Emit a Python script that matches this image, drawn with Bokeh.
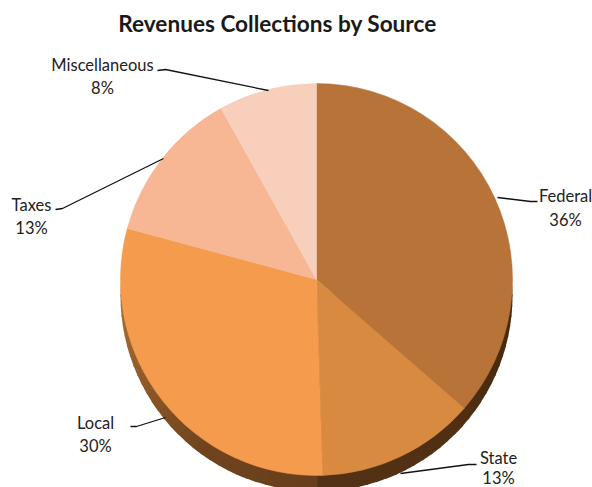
from bokeh.plotting import figure
from bokeh.embed import file_html
from bokeh.resources import INLINE
from bokeh.core.properties import value
import math

# --- chart data ---
sources = ["Federal", "State", "Local", "Taxes", "Miscellaneous"]
shares = [36.4, 13.1, 29.7, 12.7, 8.1]
colors = ["#b87338", "#d98a41", "#f59b4e", "#f7b694", "#f8cfbb"]
title = "Revenues Collections by Source"

W, H = 592, 487
CX, CY, R, DEPTH = 316, 279, 196, 16
FONT = "Lato"


def Y(py):
    return H - py


p = figure(width=W, height=H, x_range=(0, W), y_range=(0, H),
           output_backend="svg", toolbar_location=None,
           min_border=0, outline_line_color=None, background_fill_color="white",
           border_fill_color="white")
p.xaxis.visible = False
p.yaxis.visible = False
p.grid.visible = False


def lerp(a, b, t):
    return tuple(a[i] + (b[i] - a[i]) * t for i in range(3))


# rim shading: clockwise angle from the top -> colour
rim_stops = [(90, (70, 40, 15)), (130, (80, 47, 18)), (178, (84, 50, 22)), (179, (104, 62, 28)),
             (215, (112, 68, 30)), (250, (150, 96, 44)), (270, (175, 115, 55))]


def rim_color(a):
    for (a0, c0), (a1, c1) in zip(rim_stops, rim_stops[1:]):
        if a0 <= a <= a1:
            c = lerp(c0, c1, (a - a0) / (a1 - a0))
            return "#%02x%02x%02x" % tuple(int(v) for v in c)
    return "#5a3515"


# extruded rim, drawn behind the top face
step = 3
for a in range(87, 273, step):
    p.wedge(x=[CX], y=[Y(CY + DEPTH)], radius=R,
            start_angle=[math.radians(90 - a + 0.3)], end_angle=[math.radians(90 - a - step - 0.3)],
            direction="clock", fill_color=rim_color(a), line_color=None)

# top face from the shares
total = sum(shares)
ang = math.pi / 2
for s, c in zip(shares, colors):
    nxt = ang - 2 * math.pi * s / total
    p.wedge(x=[CX], y=[Y(CY)], radius=R, start_angle=[ang], end_angle=[nxt],
            direction="clock", fill_color=c, line_color=c, line_width=0.5)
    ang = nxt

# leader lines
leaders = {
    "Miscellaneous": [(157, 70), (165, 69), (268, 90)],
    "Taxes": [(55, 209), (62, 208), (163, 158)],
    "Federal": [(537, 201), (530, 201), (497, 197)],
    "Local": [(130, 426), (136, 426), (165, 417)],
    "State": [(476, 464), (468, 464), (400, 473)],
}
for pts in leaders.values():
    p.line([q[0] for q in pts], [Y(q[1]) for q in pts], line_color="#111111", line_width=1.3)

# labels: centre x, y of name, y of percent
label_pos = {
    "Federal": (565, 195, 219),
    "State": (498, 457, 477),
    "Local": (95, 422, 445),
    "Taxes": (31, 204, 227),
    "Miscellaneous": (102, 64, 87),
}
for name, share in zip(sources, shares):
    x, y1, y2 = label_pos[name]
    for t, y in ((name, y1), (f"{round(share)}%", y2)):
        p.text(x=[x], y=[Y(y)], text=[t], text_font=value(FONT), text_font_size="16.5px",
               text_align="center", text_baseline="middle", text_color="#222222")

p.text(x=[277], y=[Y(23)], text=[title], text_font=value(FONT), text_font_size="22.6px",
       text_font_style="bold", text_align="center", text_baseline="middle", text_color="#1a1a1a")

open("out.html", "w").write(file_html(p, INLINE))
